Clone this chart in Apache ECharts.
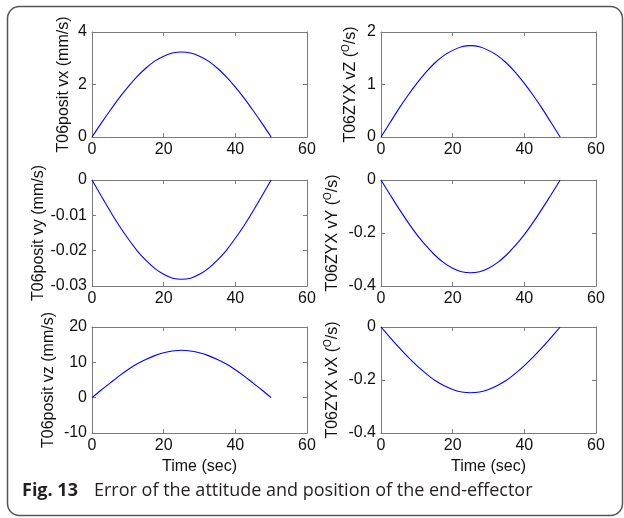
<!DOCTYPE html>
<html>
<head>
<meta charset="utf-8">
<script src="https://cdn.jsdelivr.net/npm/echarts@6/dist/echarts.min.js"></script>
<style>
  html, body { margin: 0; padding: 0; background: #fff; }
  #chart { width: 624px; height: 518px; }
</style>
</head>
<body>
<div id="chart"></div>
<script>
// time samples (sec)
const timeSec = [0, 2.5, 5, 7.5, 10, 12.5, 15, 17.5, 20, 22.5, 25, 27.5, 30, 32.5, 35, 37.5, 40, 42.5, 45, 47.5, 50]

// position error rates (mm/s)
const positVx = [0, 0.51, 1.00, 1.47, 1.90, 2.29, 2.62, 2.89, 3.08, 3.20, 3.24, 3.20, 3.08, 2.89, 2.62, 2.29, 1.90, 1.47, 1.00, 0.51, 0]
const positVy = [0, -0.0044, -0.0087, -0.0128, -0.0165, -0.0199, -0.0227, -0.0250, -0.0267, -0.0278, -0.0281, -0.0278, -0.0267, -0.0250, -0.0227, -0.0199, -0.0165, -0.0128, -0.0087, -0.0044, 0]
const positVz = [0, 2.1, 4.1, 6.1, 7.9, 9.5, 10.8, 11.9, 12.7, 13.2, 13.4, 13.2, 12.7, 11.9, 10.8, 9.5, 7.9, 6.1, 4.1, 2.1, 0]

// attitude error rates (deg/s)
const zyxVZ = [0, 0.27, 0.54, 0.79, 1.02, 1.23, 1.41, 1.55, 1.65, 1.72, 1.74, 1.72, 1.65, 1.55, 1.41, 1.23, 1.02, 0.79, 0.54, 0.27, 0]
const zyxVY = [0, -0.055, -0.108, -0.159, -0.206, -0.247, -0.283, -0.312, -0.333, -0.346, -0.350, -0.346, -0.333, -0.312, -0.283, -0.247, -0.206, -0.159, -0.108, -0.055, 0]
const zyxVX = [0, -0.039, -0.077, -0.113, -0.146, -0.175, -0.201, -0.221, -0.236, -0.245, -0.248, -0.245, -0.236, -0.221, -0.201, -0.175, -0.146, -0.113, -0.077, -0.039, 0]

// axis ranges
const xRange = { min: 0, max: 60, interval: 20 }
const yRanges = [
  { min: 0, max: 4, interval: 2 },
  { min: 0, max: 2, interval: 1 },
  { min: -0.03, max: 0, interval: 0.01 },
  { min: -0.4, max: 0, interval: 0.2 },
  { min: -10, max: 20, interval: 10 },
  { min: -0.4, max: 0, interval: 0.2 }
]
const yNames = [
  'T06posit vx (mm/s)',
  'T06ZYX vZ ({sup|O}/s)',
  'T06posit vy (mm/s)',
  'T06ZYX vY ({sup|O}/s)',
  'T06posit vz (mm/s)',
  'T06ZYX vX ({sup|O}/s)'
]
const panelData = [positVx, zyxVZ, positVy, zyxVY, positVz, zyxVX]

// layout (px)
const gridBoxes = [
  { left: 92, top: 32, width: 215, height: 105, gap: 20 },
  { left: 381, top: 32, width: 215, height: 105, gap: 21 },
  { left: 92, top: 180, width: 215, height: 106, gap: 45 },
  { left: 381, top: 180, width: 215, height: 106, gap: 39 },
  { left: 92, top: 327, width: 215, height: 106, gap: 35 },
  { left: 381, top: 327, width: 215, height: 106, gap: 39 }
]

const FONT = '"Liberation Sans", Arial, sans-serif'
const boxColor = '#7a7a7a'
const textColor = '#111'

const chart = echarts.init(document.getElementById('chart'))

const grid = []
const xAxis = []
const yAxis = []
const series = []

gridBoxes.forEach((g, i) => {
  grid.push({ left: g.left, top: g.top, width: g.width, height: g.height, outerBoundsMode: 'none' })
  const axLine = { show: true, onZero: false, lineStyle: { color: boxColor, width: 1 } }
  const tick = { show: true, inside: true, length: 4, lineStyle: { color: boxColor } }
  const isBottom = i >= 4
  xAxis.push({
    type: 'value', gridIndex: i, ...xRange, position: 'bottom',
    axisLine: axLine, axisTick: tick, splitLine: { show: false },
    axisLabel: { margin: 5, fontSize: 16, color: textColor, fontFamily: FONT },
    name: isBottom ? 'Time (sec)' : '', nameLocation: 'middle', nameGap: 26,
    nameTextStyle: { fontSize: 16, color: textColor, fontFamily: FONT }
  })
  xAxis.push({
    type: 'value', gridIndex: i, ...xRange, position: 'top',
    axisLine: axLine, axisTick: tick, splitLine: { show: false }, axisLabel: { show: false }
  })
  yAxis.push({
    type: 'value', gridIndex: i, ...yRanges[i], position: 'left',
    axisLine: axLine, axisTick: tick, splitLine: { show: false },
    axisLabel: { margin: 5, fontSize: 16, color: textColor, fontFamily: FONT },
    name: yNames[i], nameLocation: 'middle', nameRotate: 90, nameGap: g.gap,
    nameTextStyle: {
      fontSize: 16, color: textColor, fontFamily: FONT,
      rich: { sup: { fontSize: 10, color: textColor, fontFamily: FONT, verticalAlign: 'top', padding: [0, 0, 9, 0] } }
    }
  })
  yAxis.push({
    type: 'value', gridIndex: i, ...yRanges[i], position: 'right',
    axisLine: axLine, axisTick: tick, splitLine: { show: false }, axisLabel: { show: false }
  })
  series.push({
    type: 'line', xAxisIndex: 2 * i, yAxisIndex: 2 * i,
    data: timeSec.map((t, k) => [t, panelData[i][k]]),
    showSymbol: false, smooth: 0.3, animation: false,
    lineStyle: { color: '#0000ff', width: 1.1 }
  })
})

chart.setOption({
  backgroundColor: '#fff',
  animation: false,
  grid, xAxis, yAxis, series,
  graphic: [
    {
      type: 'rect', left: 5, top: 4,
      shape: { width: 615, height: 509, r: 12 },
      style: { fill: 'none', stroke: '#555', lineWidth: 1.5 }
    },
    {
      type: 'text', left: 22, top: 482,
      style: { text: 'Fig. 13', font: 'bold 18px "Open Sans", sans-serif', fill: '#231f20' }
    },
    {
      type: 'text', left: 94, top: 482,
      style: { text: 'Error of the attitude and position of the end-effector', font: '18px "Open Sans", sans-serif', fill: '#231f20' }
    }
  ]
})
</script>
</body>
</html>
